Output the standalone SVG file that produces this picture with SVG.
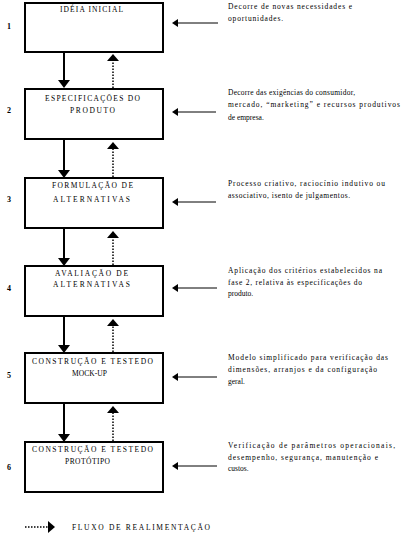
<svg xmlns="http://www.w3.org/2000/svg" width="403" height="541" viewBox="0 0 403 541">
<style>
.box{fill:#fff;stroke:#000;stroke-width:2}
.t{font-family:"Liberation Serif",serif;font-size:7.5px;fill:#000}
.d{font-family:"Liberation Serif",serif;font-size:7.5px;fill:#000}
.n{font-family:"Liberation Serif",serif;font-size:8px;font-weight:bold;fill:#000}
.dn{stroke:#000;stroke-width:2;fill:none}
.up{stroke:#000;stroke-width:1.5;stroke-dasharray:1.5 1.5;fill:none}
.in{stroke:#000;stroke-width:1;fill:none}
</style>
<rect width="403" height="541" fill="#fff"/>
<g id="connectors">
<line class="dn" x1="64" y1="52" x2="64" y2="81"/><path d="M58,80 L70,80 L64,88 Z"/>
<line class="up" x1="113" y1="88" x2="113" y2="60"/><path d="M107,61 L119,61 L113,54 Z"/>
<line class="dn" x1="64" y1="139" x2="64" y2="170"/><path d="M58,170 L70,170 L64,178 Z"/>
<line class="up" x1="113" y1="177" x2="113" y2="148"/><path d="M107,149 L119,149 L113,142 Z"/>
<line class="dn" x1="64" y1="228" x2="64" y2="258"/><path d="M58,258 L70,258 L64,266 Z"/>
<line class="up" x1="113" y1="265" x2="113" y2="237"/><path d="M107,238 L119,238 L113,231 Z"/>
<line class="dn" x1="64" y1="316" x2="64" y2="345"/><path d="M58,345 L70,345 L64,353 Z"/>
<line class="up" x1="113" y1="352" x2="113" y2="325"/><path d="M107,326 L119,326 L113,319 Z"/>
<line class="dn" x1="64" y1="403" x2="64" y2="434"/><path d="M58,434 L70,434 L64,442 Z"/>
<line class="up" x1="113" y1="441" x2="113" y2="412"/><path d="M107,413 L119,413 L113,406 Z"/>
<line class="in" x1="218" y1="23" x2="176" y2="23"/><path d="M172,23 L178,19 L178,27 Z"/>
<line class="in" x1="216" y1="112" x2="176" y2="112"/><path d="M172,112 L178,108 L178,116 Z"/>
<line class="in" x1="216" y1="202" x2="176" y2="202"/><path d="M172,202 L178,198 L178,206 Z"/>
<line class="in" x1="217" y1="288" x2="176" y2="288"/><path d="M172,288 L178,284 L178,292 Z"/>
<line class="in" x1="217" y1="377" x2="176" y2="377"/><path d="M172,377 L178,373 L178,381 Z"/>
<line class="in" x1="217" y1="466" x2="176" y2="466"/><path d="M172,466 L178,462 L178,470 Z"/>
</g>
<g id="n1"><rect class="box" x="25" y="3" width="138" height="49"/><text class="t" x="60" y="12" textLength="63" lengthAdjust="spacing">IDÉIA INICIAL</text><text class="n" x="7" y="29">1</text></g>
<g id="n2"><rect class="box" x="25" y="89" width="138" height="50"/><text class="t" x="45" y="101" textLength="95" lengthAdjust="spacing">ESPECIFICAÇÕES DO</text><text class="t" x="70" y="113" textLength="45" lengthAdjust="spacing">PRODUTO</text><text class="n" x="7" y="113">2</text></g>
<g id="n3"><rect class="box" x="25" y="178" width="138" height="50"/><text class="t" x="52" y="188" textLength="81" lengthAdjust="spacing">FORMULAÇÃO DE</text><text class="t" x="53" y="202" textLength="77" lengthAdjust="spacing">ALTERNATIVAS</text><text class="n" x="7" y="202">3</text></g>
<g id="n4"><rect class="box" x="25" y="266" width="138" height="50"/><text class="t" x="55" y="276" textLength="73" lengthAdjust="spacing">AVALIAÇÃO DE</text><text class="t" x="53" y="287" textLength="77" lengthAdjust="spacing">ALTERNATIVAS</text><text class="n" x="7" y="291">4</text></g>
<g id="n5"><rect class="box" x="25" y="353" width="138" height="50"/><text class="t" x="32" y="364" textLength="121" lengthAdjust="spacing">CONSTRUÇÃO E TESTEDO</text><text class="t" x="72" y="376" textLength="35" lengthAdjust="spacing">MOCK-UP</text><text class="n" x="7" y="378">5</text></g>
<g id="n6"><rect class="box" x="25" y="442" width="138" height="50"/><text class="t" x="32" y="452" textLength="121" lengthAdjust="spacing">CONSTRUÇÃO E TESTEDO</text><text class="t" x="65" y="464" textLength="45" lengthAdjust="spacing">PROTÓTIPO</text><text class="n" x="7" y="470">6</text></g>
<g id="d1"><text class="d" x="228" y="9" textLength="124" lengthAdjust="spacing">Decorre de novas necessidades e</text><text class="d" x="228" y="21" textLength="55" lengthAdjust="spacing">oportunidades.</text></g>
<g id="d2"><text class="d" x="228" y="95" textLength="127" lengthAdjust="spacing">Decorre das exigências do consumidor,</text><text class="d" x="228" y="107" textLength="172" lengthAdjust="spacing">mercado, “marketing” e recursos produtivos</text><text class="d" x="228" y="120">de empresa.</text></g>
<g id="d3"><text class="d" x="228" y="186" textLength="157" lengthAdjust="spacing">Processo criativo, raciocínio indutivo ou</text><text class="d" x="228" y="198" textLength="122" lengthAdjust="spacing">associativo, isento de julgamentos.</text></g>
<g id="d4"><text class="d" x="228" y="273" textLength="154" lengthAdjust="spacing">Aplicação dos critérios estabelecidos na</text><text class="d" x="228" y="285" textLength="134" lengthAdjust="spacing">fase 2, relativa às especificações do</text><text class="d" x="228" y="296">produto.</text></g>
<g id="d5"><text class="d" x="228" y="360" textLength="160" lengthAdjust="spacing">Modelo simplificado para verificação das</text><text class="d" x="228" y="372" textLength="149" lengthAdjust="spacing">dimensões, arranjos e da configuração</text><text class="d" x="228" y="384">geral.</text></g>
<g id="d6"><text class="d" x="228" y="448" textLength="167" lengthAdjust="spacing">Verificação de parâmetros operacionais,</text><text class="d" x="228" y="460" textLength="150" lengthAdjust="spacing">desempenho, segurança, manutenção e</text><text class="d" x="228" y="471">custos.</text></g>
<g id="legend"><line class="up" x1="25" y1="527" x2="48" y2="527"/><path d="M48,521 L55,527 L48,533 Z"/><text class="t" x="72" y="530" textLength="138" lengthAdjust="spacing">FLUXO DE REALIMENTAÇÃO</text></g>
</svg>
